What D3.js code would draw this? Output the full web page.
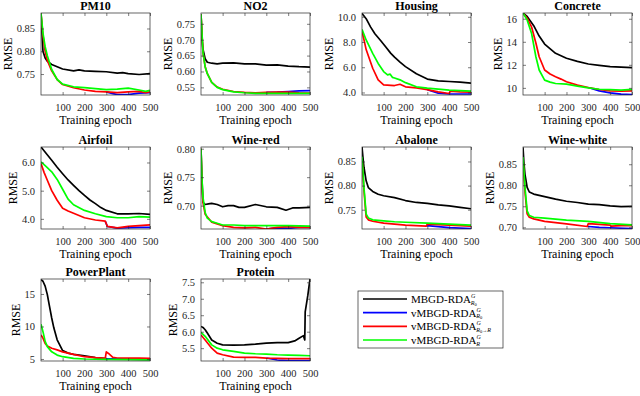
<!DOCTYPE html>
<html>
<head>
<meta charset="utf-8">
<script src="https://cdn.jsdelivr.net/npm/d3@7"></script>
<style>
  body { margin: 0; background: #fff; }
  svg { display: block; font-family: "Liberation Serif", "Times New Roman", serif; }
</style>
</head>
<body>
<svg id="chart" width="640" height="396"></svg>
<script>
var titles = ['PM10', 'NO2', 'Housing', 'Concrete', 'Airfoil', 'Wine-red', 'Abalone', 'Wine-white', 'PowerPlant', 'Protein'];
var yDomains = [[0.704, 0.884], [0.526, 0.784], [3.8, 10.3], [9.38, 16.5], [3.64, 6.55],
                [0.659, 0.803], [0.71, 0.88], [0.696, 0.891], [4.69, 17.3], [5.11, 7.6]];
var yTicks = [[0.75, 0.8, 0.85], [0.55, 0.6, 0.65, 0.7, 0.75], [4, 6, 8, 10], [10, 12, 14, 16], [4, 5, 6],
              [0.7, 0.75, 0.8], [0.75, 0.8, 0.85], [0.7, 0.75, 0.8, 0.85], [5, 10, 15], [5.5, 6, 6.5, 7, 7.5]];
var xTicks = [100, 200, 300, 400, 500];

// MBGD-RDA (black), one list of [epoch, rmse] per panel
var mbgdR0 = [
  [[1,.883],[10,.80],[20,.785],[30,.778],[50,.771],[75,.766],[100,.761],[150,.757],[175,.759],[200,.757],[250,.756],[300,.755],[350,.752],[375,.753],[400,.751],[450,.749],[500,.751]],
  [[1,.78],[5,.71],[10,.67],[20,.64],[30,.629],[50,.626],[75,.624],[100,.626],[150,.627],[200,.624],[250,.624],[300,.62],[350,.621],[400,.617],[450,.615],[500,.614]],
  [[1,10.26],[20,9.85],[40,9.2],[60,8.65],[87,8.1],[110,7.6],[133,7.1],[150,6.8],[175,6.4],[200,6.05],[250,5.48],[300,5.06],[350,4.92],[400,4.87],[450,4.82],[500,4.74]],
  [[1,16.5],[20,16.2],[50,15.4],[75,14.5],[100,13.8],[150,13.0],[200,12.57],[250,12.3],[300,12.07],[350,11.95],[400,11.84],[450,11.8],[500,11.75]],
  [[1,6.55],[25,6.32],[50,6.08],[75,5.83],[100,5.6],[125,5.38],[150,5.19],[175,5.0],[200,4.83],[225,4.67],[250,4.54],[275,4.4],[300,4.3],[350,4.18],[400,4.18],[450,4.19],[500,4.16]],
  [[1,.80],[5,.75],[10,.706],[20,.702],[35,.703],[50,.704],[75,.702],[100,.698],[125,.70],[150,.70],[175,.697],[200,.697],[250,.702],[300,.698],[350,.697],[390,.692],[420,.696],[450,.696],[500,.697]],
  [[1,.88],[5,.86],[10,.838],[20,.81],[30,.796],[50,.788],[75,.782],[100,.779],[150,.775],[200,.769],[250,.765],[300,.763],[350,.76],[400,.758],[450,.755],[500,.752]],
  [[1,.89],[5,.855],[10,.826],[20,.795],[30,.784],[50,.779],[75,.776],[100,.773],[150,.767],[200,.762],[250,.759],[300,.755],[350,.754],[400,.751],[450,.749],[500,.75]],
  [[1,17.2],[10,16.95],[20,16.2],[30,14.9],[40,13.1],[50,11.3],[60,9.75],[75,7.95],[100,6.3],[125,5.9],[150,5.7],[200,5.5],[250,5.2],[300,5.05],[400,4.98],[500,4.95]],
  [[1,6.16],[10,6.13],[20,6.06],[30,5.96],[50,5.75],[75,5.65],[100,5.6],[150,5.59],[200,5.6],[250,5.62],[300,5.65],[350,5.67],[400,5.67],[430,5.72],[450,5.8],[470,5.88],[476,5.75],[478,6.6],[490,7.1],[500,7.6]]
];

// vMBGD-RDA R0 (blue), only where it leaves the red curve
var vmbgdR0 = [
  [[300,.711],[330,.707],[350,.705],[400,.705],[450,.708],[500,.709]],
  [[300,.534],[350,.535],[400,.537],[450,.539],[500,.54]],
  [[300,4.22],[350,3.95],[400,3.88],[450,3.88],[500,3.88]],
  [[300,10.03],[350,9.74],[400,9.57],[450,9.45],[500,9.42]],
  [[295,3.92],[305,3.73],[350,3.67],[400,3.69],[450,3.7],[500,3.7]],
  [[300,.659],[350,.661],[400,.660],[450,.662],[500,.662]],
  [[295,.716],[300,.717],[400,.713],[500,.711]],
  [[295,.702],[300,.702],[350,.700],[400,.699],[500,.697]],
  [[295,5.1],[300,5.05],[400,5.0],[500,4.95]],
  [[300,5.2],[350,5.14],[400,5.12],[500,5.12]]
];

// vMBGD-RDA R0->R (red)
var vmbgdR0R = [
  [[1,.883],[10,.835],[20,.80],[30,.78],[50,.757],[75,.738],[100,.727],[150,.72],[200,.715],[250,.712],[300,.711],[350,.709],[400,.711],[450,.712],[480,.709],[500,.711]],
  [[1,.78],[10,.66],[20,.615],[30,.593],[50,.566],[75,.551],[100,.544],[150,.537],[200,.534],[250,.533],[300,.534],[350,.535],[400,.535],[450,.533],[500,.532]],
  [[1,8.9],[20,7.4],[50,5.92],[75,5.0],[100,4.6],[150,4.55],[175,4.65],[200,4.45],[250,4.37],[300,4.22],[350,4.05],[400,3.92],[405,4.1],[450,4.05],[500,4.02]],
  [[1,16.5],[20,16.05],[40,15.3],[60,13.9],[75,12.7],[100,11.55],[125,11.2],[150,10.97],[175,10.76],[200,10.53],[250,10.24],[300,10.03],[350,9.86],[400,9.74],[450,9.71],[500,9.74]],
  [[1,5.96],[15,5.65],[30,5.37],[50,5.0],[75,4.66],[100,4.38],[125,4.28],[150,4.2],[200,4.04],[250,3.96],[295,3.92],[305,3.73],[350,3.68],[400,3.73],[450,3.76],[500,3.79]],
  [[1,.80],[5,.74],[10,.706],[20,.685],[50,.671],[100,.665],[150,.662],[200,.661],[250,.662],[300,.659],[350,.662],[400,.663],[450,.662],[500,.662]],
  [[1,.858],[10,.79],[20,.735],[30,.729],[50,.726],[100,.722],[200,.718],[295,.716],[300,.72],[350,.719],[400,.718],[450,.717],[500,.716]],
  [[1,.865],[10,.785],[20,.732],[30,.724],[50,.72],[100,.714],[200,.708],[295,.702],[300,.709],[400,.705],[405,.703],[450,.704],[500,.704]],
  [[1,8.7],[10,8.2],[20,7.4],[30,7.0],[50,6.65],[75,6.4],[100,6.1],[150,5.7],[200,5.35],[250,5.2],[295,5.1],[300,6.1],[310,5.85],[330,5.25],[350,5.15],[400,5.12],[450,5.12],[500,5.08]],
  [[1,5.9],[20,5.75],[50,5.5],[75,5.35],[100,5.3],[150,5.23],[200,5.22],[250,5.22],[300,5.2],[350,5.19],[400,5.18],[500,5.18]]
];

// vMBGD-RDA R (green)
var vmbgdR = [
  [[1,.883],[10,.84],[20,.81],[30,.79],[50,.76],[75,.738],[100,.728],[150,.722],[200,.72],[250,.718],[300,.716],[350,.717],[400,.719],[450,.715],[480,.712],[500,.714]],
  [[1,.78],[10,.66],[20,.615],[30,.593],[50,.566],[75,.55],[100,.543],[150,.536],[200,.533],[250,.531],[300,.531],[350,.531],[400,.531],[450,.531],[500,.531]],
  [[1,9.0],[20,8.16],[50,7.1],[75,6.3],[100,5.66],[118,5.4],[130,5.45],[140,5.2],[150,5.15],[175,5.0],[200,4.78],[250,4.45],[300,4.35],[350,4.27],[400,4.18],[450,4.15],[500,4.1]],
  [[1,16.5],[20,15.9],[40,14.75],[60,12.7],[75,11.55],[100,10.67],[125,10.5],[150,10.38],[200,10.33],[250,10.15],[300,10.0],[350,9.88],[400,9.85],[450,9.8],[500,9.86]],
  [[1,6.02],[25,5.85],[50,5.67],[75,5.4],[100,5.05],[125,4.7],[150,4.5],[200,4.3],[250,4.18],[300,4.08],[350,4.04],[400,4.04],[450,4.08],[500,4.06]],
  [[1,.80],[5,.75],[10,.715],[20,.688],[30,.678],[50,.672],[75,.669],[100,.666],[150,.666],[200,.665],[300,.665],[400,.665],[500,.664]],
  [[1,.86],[10,.796],[20,.741],[30,.733],[50,.729],[100,.727],[150,.725],[200,.724],[300,.722],[400,.72],[500,.718]],
  [[1,.867],[10,.795],[20,.739],[30,.728],[50,.724],[100,.722],[200,.717],[300,.714],[400,.709],[500,.706]],
  [[1,10.35],[10,9.2],[20,7.7],[30,6.9],[50,6.1],[75,5.6],[100,5.35],[150,5.1],[200,5.0],[300,4.95],[500,4.85]],
  [[1,5.98],[20,5.86],[50,5.6],[75,5.5],[100,5.45],[150,5.4],[200,5.35],[250,5.33],[300,5.32],[350,5.3],[400,5.29],[450,5.28],[500,5.27]]
];

var seriesList = [mbgdR0, vmbgdR0, vmbgdR0R, vmbgdR];
var seriesColors = ['#000000', '#0000ff', '#ff0000', '#00ff00'];
var legendMain = ['MBGD-RDA', 'vMBGD-RDA', 'vMBGD-RDA', 'vMBGD-RDA'];
var legendSub = ['R0', 'R0', 'R0R', 'R'];

var colX = [41, 201, 362, 523];
var rowY = [13, 147, 279];
var W = 109, H = 82;
var axisColor = '#262626';

var svg = d3.select('#chart');

titles.forEach(function(title, i) {
  var px = colX[i % 4], py = rowY[Math.floor(i / 4)];
  var g = svg.append('g').attr('transform', 'translate(' + px + ',' + py + ')');

  var x = d3.scaleLinear().domain([1, 500]).range([0, W]);
  var y = d3.scaleLinear().domain(yDomains[i]).range([H, 0]);

  g.append('clipPath').attr('id', 'clip' + i)
    .append('rect').attr('width', W).attr('height', H);

  var line = d3.line()
    .x(function(d) { return x(d[0]); })
    .y(function(d) { return y(d[1]); });

  var lines = g.append('g').attr('clip-path', 'url(#clip' + i + ')');
  seriesList.forEach(function(s, k) {
    lines.append('path')
      .datum(s[i])
      .attr('d', line)
      .attr('fill', 'none')
      .attr('stroke', seriesColors[k])
      .attr('stroke-width', 1.7)
      .attr('stroke-linejoin', 'round');
  });

  // axes, ticks pointing inward like matlab
  var yAxis = g.append('g')
    .call(d3.axisLeft(y).tickValues(yTicks[i]).tickSize(-3).tickPadding(6));
  g.append('g').attr('transform', 'translate(0,' + H + ')')
    .call(d3.axisBottom(x).tickValues(xTicks).tickSize(-3).tickPadding(9));
  g.append('g').call(d3.axisTop(x).tickValues(xTicks).tickSize(-3).tickFormat(''));
  g.append('g').attr('transform', 'translate(' + W + ',0)')
    .call(d3.axisRight(y).tickValues(yTicks[i]).tickSize(-3).tickFormat(''));

  g.selectAll('.domain').remove();
  g.selectAll('.tick line').attr('stroke', axisColor).attr('stroke-width', 0.6);
  g.selectAll('.tick text').attr('fill', axisColor)
    .style('font-family', '"Liberation Serif", serif').style('font-size', '10.5px');

  g.append('rect')
    .attr('width', W).attr('height', H)
    .attr('fill', 'none').attr('stroke', axisColor).attr('stroke-width', 0.7);

  g.append('text')
    .attr('x', W / 2).attr('y', -3)
    .attr('text-anchor', 'middle')
    .style('font-size', '12px').style('font-weight', 'bold')
    .text(title);

  g.append('text')
    .attr('x', W / 2).attr('y', H + 29)
    .attr('text-anchor', 'middle')
    .style('font-size', '12px')
    .text('Training epoch');

  var bb = yAxis.node().getBBox();
  g.append('text')
    .attr('transform', 'translate(' + (bb.x - 5) + ',' + (H / 2) + ') rotate(-90)')
    .attr('text-anchor', 'middle')
    .style('font-size', '12px')
    .text('RMSE');
});

// legend
var leg = svg.append('g').attr('transform', 'translate(358,291)');
leg.append('rect').attr('width', 145).attr('height', 57)
  .attr('fill', '#fff').attr('stroke', axisColor).attr('stroke-width', 0.7);
var rowsY = [8, 21.7, 35.3, 49];

legendMain.forEach(function(name, k) {
  var ly = rowsY[k];
  leg.append('line')
    .attr('x1', 5).attr('x2', 49).attr('y1', ly).attr('y2', ly)
    .attr('stroke', seriesColors[k]).attr('stroke-width', 1.7);
  // one text element: name, superscript G, then subscript stacked under the G
  var t = leg.append('text').attr('x', 53).attr('y', ly + 4).style('font-size', '11px');
  t.append('tspan').text(name);
  t.append('tspan').attr('dy', -5).style('font-size', '6px').style('font-style', 'italic').text('G');
  t.append('tspan').attr('dx', -4.4).attr('dy', 6.5).style('font-size', '6px').style('font-style', 'italic').text('R');
  var kind = legendSub[k];
  if (kind === 'R0' || kind === 'R0R') {
    t.append('tspan').attr('dy', 1).style('font-size', '4.5px').text('0');
  }
  if (kind === 'R0R') {
    t.append('tspan').attr('dy', -1).style('font-size', '5px').text('\u2192');
    t.append('tspan').style('font-size', '6px').style('font-style', 'italic').text('R');
  }
});
</script>
</body>
</html>
